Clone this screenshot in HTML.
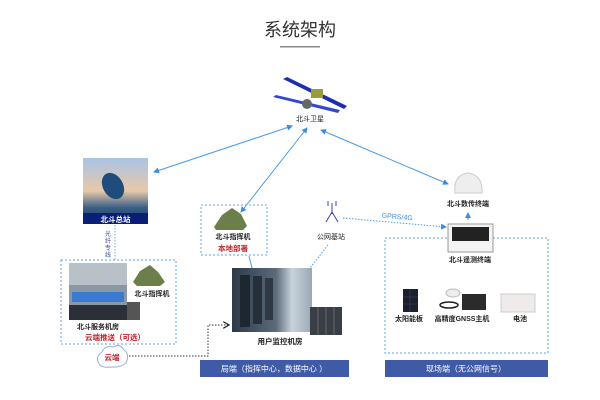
<!DOCTYPE html>
<html><head><meta charset="utf-8"><style>
html,body{margin:0;padding:0;background:#fff;}
svg{display:block;font-family:"Liberation Sans","Noto Sans CJK SC",sans-serif;}
</style></head><body>
<svg width="600" height="400" viewBox="0 0 600 400" xmlns="http://www.w3.org/2000/svg">
<defs>
<marker id="a" markerWidth="6" markerHeight="6" refX="5" refY="3" orient="auto-start-reverse"><path d="M0,0 L6,3 L0,6 z" fill="#3a8de0"/></marker>
<marker id="k" markerWidth="7" markerHeight="7" refX="6" refY="3.5" orient="auto"><path d="M0,0 L6,3.5 L0,7" fill="none" stroke="#222" stroke-width="1.2"/></marker>
<linearGradient id="sky" x1="0" y1="0" x2="0" y2="1"><stop offset="0" stop-color="#a9c4e6"/><stop offset="0.5" stop-color="#e8c8a8"/><stop offset="0.75" stop-color="#3b5f88"/><stop offset="1" stop-color="#1d3a5a"/></linearGradient>
<linearGradient id="room" x1="0" y1="0" x2="1" y2="0"><stop offset="0" stop-color="#2c3a48"/><stop offset="0.55" stop-color="#5b6b7a"/><stop offset="0.75" stop-color="#c8d3dc"/><stop offset="1" stop-color="#9aa9b6"/></linearGradient>
</defs>
<text x="300" y="36" font-size="18" text-anchor="middle" fill="#333">系统架构</text>
<rect x="280" y="46" width="40" height="1.5" fill="#888"/>
<!-- satellite -->
<g>
<polygon points="283,79 287,77 347,106 344,109" fill="#1b2fb0"/>
<polygon points="273,97 276,95 340,110 338,113" fill="#3347d0"/>
<rect x="311" y="89" width="12" height="9" fill="#9a9a40"/>
<circle cx="307" cy="104" r="5" fill="#666"/>
</g>
<text x="310" y="121" font-size="7" text-anchor="middle" fill="#222">北斗卫星</text>
<!-- arrows -->
<g stroke="#4a9be8" stroke-width="1" fill="none">
<line x1="292" y1="126" x2="154" y2="172" marker-start="url(#a)" marker-end="url(#a)"/>
<line x1="307" y1="128" x2="241" y2="212" marker-start="url(#a)" marker-end="url(#a)"/>
<line x1="321" y1="130" x2="448" y2="184" marker-start="url(#a)" marker-end="url(#a)"/>
</g>
<!-- station -->
<rect x="83" y="158" width="65" height="66" fill="url(#sky)"/>
<ellipse cx="113" cy="186" rx="10" ry="14" fill="#1f4c7a" transform="rotate(-30 113 186)"/>
<rect x="83" y="213" width="65" height="11" fill="#0a1d78"/>
<text x="115.5" y="222" font-size="7.5" text-anchor="middle" fill="#fff" font-weight="bold">北斗总站</text>
<line x1="115" y1="225" x2="115" y2="260" stroke="#6fa8e8" stroke-dasharray="1.5,1.5"/>
<text font-size="6" fill="#3848a0" x="105" y="236">光</text><text font-size="6" fill="#3848a0" x="105" y="243">纤</text><text font-size="6" fill="#3848a0" x="105" y="250">专</text><text font-size="6" fill="#3848a0" x="105" y="257">线</text>
<!-- left box -->
<rect x="61" y="260" width="115" height="84" fill="none" stroke="#5aa4ec" stroke-dasharray="2,2"/>
<rect x="69" y="263" width="58" height="57" fill="#8a98a6"/>
<rect x="69" y="263" width="58" height="22" fill="#b8c0c8"/>
<rect x="72" y="292" width="52" height="10" fill="#3a7ad0"/>
<rect x="69" y="305" width="58" height="15" fill="#2a2f38"/>
<rect x="127" y="302" width="13" height="18" fill="#555"/>
<polygon points="133,282 140,271 150,265 158,272 165,282 160,286 137,286" fill="#6c7f4a"/>
<text x="152" y="296" font-size="7" text-anchor="middle" fill="#222" font-weight="bold">北斗指挥机</text>
<text x="98" y="329" font-size="7" text-anchor="middle" fill="#222" font-weight="bold">北斗服务机房</text>
<text x="115" y="340" font-size="7.5" text-anchor="middle" fill="#c8202a" font-weight="bold">云端推送（可选）</text>
<!-- cloud -->
<path d="M100,365 Q94,357 102,352 Q105,345 113,347 Q120,343 124,350 Q130,354 126,363 Q120,368 110,367 Q103,368 100,365z" fill="#fff" stroke="#9ab0d8"/>
<text x="112" y="360" font-size="7.5" text-anchor="middle" fill="#c8202a" font-weight="bold">云端</text>
<path d="M129,356 L208,356 L208,325 L229,325" fill="none" stroke="#333" stroke-dasharray="1.5,1.5" marker-end="url(#k)"/>
<!-- local commander -->
<rect x="201" y="205" width="66" height="50" fill="none" stroke="#5aa4ec" stroke-dasharray="2,2"/>
<polygon points="214,227 222,215 232,208 241,214 247,226 243,230 216,230" fill="#6c7f4a"/>
<text x="233" y="239" font-size="7" text-anchor="middle" fill="#222" font-weight="bold">北斗指挥机</text>
<text x="233" y="251" font-size="7.5" text-anchor="middle" fill="#c8202a" font-weight="bold">本地部署</text>
<line x1="249" y1="256" x2="252" y2="268" stroke="#4a9be8"/>
<!-- server room -->
<rect x="232" y="268" width="80" height="64" fill="url(#room)"/>
<rect x="240" y="275" width="10" height="52" fill="#1e2730"/><rect x="253" y="276" width="9" height="48" fill="#26303a"/><rect x="265" y="278" width="8" height="42" fill="#2e3944"/>
<rect x="310" y="307" width="32" height="28" fill="#3a3f46"/>
<g stroke="#888" stroke-width="0.6"><line x1="318" y1="307" x2="318" y2="335"/><line x1="326" y1="307" x2="326" y2="335"/><line x1="334" y1="307" x2="334" y2="335"/></g>
<text x="280" y="344" font-size="7.5" text-anchor="middle" fill="#222" font-weight="bold">用户监控机房</text>
<!-- tower -->
<g stroke="#3848a8" stroke-width="1" fill="none"><line x1="332" y1="203" x2="332" y2="214"/><line x1="332" y1="212" x2="326" y2="222"/><line x1="332" y1="212" x2="338" y2="222"/><line x1="328" y1="201" x2="328" y2="206"/><line x1="336" y1="201" x2="336" y2="206"/></g>
<text x="331" y="239" font-size="7" text-anchor="middle" fill="#222">公网基站</text>
<line x1="328" y1="245" x2="310" y2="268" stroke="#4a9be8" stroke-dasharray="1.5,1.5"/>
<line x1="343" y1="218" x2="446" y2="227" stroke="#4a9be8" stroke-dasharray="1.5,1.5" marker-end="url(#a)"/>
<text x="397" y="219" font-size="7" text-anchor="middle" fill="#3a8de0" transform="rotate(5 397 219)">GPRS/4G</text>
<!-- dome -->
<path d="M455,193 Q453,175 468,173 Q483,175 482,193 z" fill="#eee" stroke="#ccc"/>
<text x="468" y="206" font-size="7" text-anchor="middle" fill="#222" font-weight="bold">北斗数传终端</text>
<line x1="468" y1="220" x2="468" y2="213" stroke="#3a8de0" marker-end="url(#a)"/>
<!-- right box -->
<rect x="385" y="238" width="163" height="115" fill="none" stroke="#5aa4ec" stroke-dasharray="2,2"/>
<rect x="448" y="224" width="45" height="28" fill="#f4f4f4" stroke="#999"/>
<rect x="452" y="227" width="37" height="14" fill="#222"/>
<text x="470" y="262" font-size="7" text-anchor="middle" fill="#222" font-weight="bold">北斗遥测终端</text>
<rect x="403" y="289" width="15" height="23" fill="#1a2030"/>
<g stroke="#555" stroke-width="0.4"><line x1="410" y1="289" x2="410" y2="312"/><line x1="403" y1="297" x2="418" y2="297"/><line x1="403" y1="304" x2="418" y2="304"/></g>
<text x="409" y="321" font-size="7" text-anchor="middle" fill="#222" font-weight="bold">太阳能板</text>
<ellipse cx="453" cy="293" rx="7" ry="4" fill="#eee" stroke="#bbb"/>
<rect x="462" y="294" width="24" height="16" fill="#2b2b2b"/>
<ellipse cx="449" cy="305" rx="9" ry="3" fill="none" stroke="#222" stroke-width="1.5"/>
<text x="462" y="321" font-size="7" text-anchor="middle" fill="#222" font-weight="bold">高精度GNSS主机</text>
<rect x="501" y="294" width="34" height="18" fill="#f0ebeb" stroke="#ccc"/>
<text x="520" y="321" font-size="7" text-anchor="middle" fill="#222" font-weight="bold">电池</text>
<!-- bottom bars -->
<rect x="200" y="360" width="149" height="17" fill="#3f5ba6"/>
<text x="274" y="371.5" font-size="8" text-anchor="middle" fill="#fff">局端（指挥中心，数据中心 ）</text>
<rect x="385" y="360" width="163" height="17" fill="#3f5ba6"/>
<text x="466" y="371.5" font-size="8" text-anchor="middle" fill="#fff">现场端（无公网信号）</text>
</svg>
</body></html>
